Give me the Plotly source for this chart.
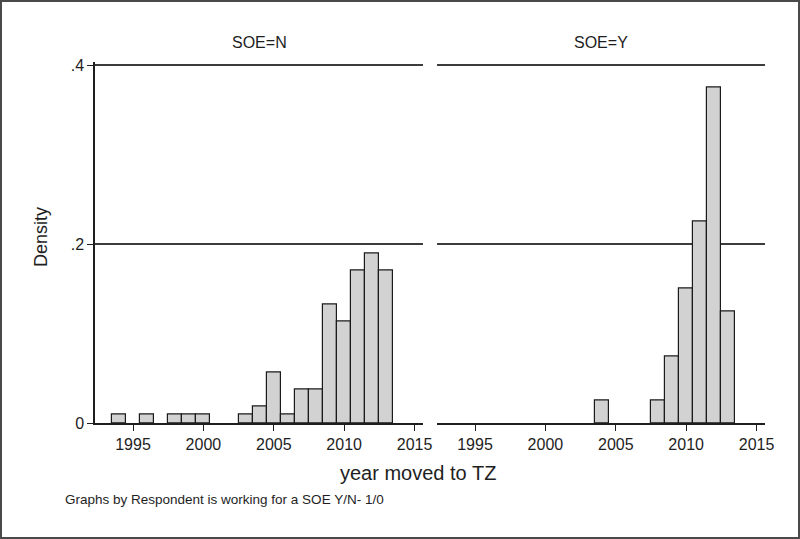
import plotly.graph_objects as go

# Data: density per 1-year bin (bins centered on integer years)
years_n = [1994, 1996, 1998, 1999, 2000, 2003, 2004, 2005, 2006, 2007, 2008, 2009, 2010, 2011, 2012, 2013]
density_n = [0.0095, 0.0095, 0.0095, 0.0095, 0.0095, 0.0095, 0.019, 0.057, 0.0095, 0.038, 0.038, 0.133, 0.114, 0.171, 0.190, 0.171]

years_y = [2004, 2008, 2009, 2010, 2011, 2012, 2013]
density_y = [0.025, 0.025, 0.075, 0.150, 0.225, 0.375, 0.125]

panel_titles = ["SOE=N", "SOE=Y"]
x_ticks = [1995, 2000, 2005, 2010, 2015]
y_ticks = [0, 0.2, 0.4]
y_ticktext = ["0", ".2", ".4"]

W, H = 800, 539
FONT = "Liberation Sans, Arial, sans-serif"
TXT = "#1e1e1e"
BAR_FILL = "#d2d2d2"
BAR_LINE = "#1a1a1a"
GRID = "#3c3c3c"

def px(x):
    return x / W

def py(y):
    return 1 - y / H

fig = go.Figure()
bar_style = dict(width=1.0, marker=dict(color=BAR_FILL, line=dict(color=BAR_LINE, width=1.2)), showlegend=False)
fig.add_trace(go.Bar(x=years_n, y=density_n, xaxis="x", yaxis="y", **bar_style))
fig.add_trace(go.Bar(x=years_y, y=density_y, xaxis="x2", yaxis="y2", **bar_style))

y_bottom = 423.3
y_top = 61.5
xr = [1992.3, 2015.6]
yr = [0, 0.404]

xaxis_common = dict(
    range=xr, tickvals=x_ticks, ticks="outside", ticklen=6, tickwidth=1.3, tickcolor=TXT,
    showline=True, linecolor=TXT, linewidth=1.5, showgrid=False, zeroline=False,
    tickfont=dict(family=FONT, size=16, color=TXT), automargin=False, fixedrange=True,
)
yaxis_common = dict(
    range=yr, domain=[py(y_bottom), py(y_top)], tickvals=y_ticks, ticktext=y_ticktext,
    showgrid=True, gridcolor=GRID, gridwidth=1.5, zeroline=False, automargin=False, fixedrange=True,
)

fig.update_layout(
    width=W, height=H,
    margin=dict(l=0, r=0, t=0, b=0),
    paper_bgcolor="white", plot_bgcolor="white",
    bargap=0,
    xaxis=dict(domain=[px(95), px(423)], anchor="y", **xaxis_common),
    xaxis2=dict(domain=[px(437), px(765)], anchor="y2", **xaxis_common),
    yaxis=dict(anchor="x", ticks="outside", ticklen=6, tickwidth=1.3, tickcolor=TXT,
               showline=True, linecolor=TXT, linewidth=1.5,
               tickfont=dict(family=FONT, size=16, color=TXT), **yaxis_common),
    yaxis2=dict(anchor="x2", showticklabels=False, ticks="", showline=False, **yaxis_common),
    annotations=[
        dict(text=panel_titles[0], x=px(259), y=py(42), xref="paper", yref="paper",
             xanchor="center", yanchor="middle", showarrow=False,
             font=dict(family=FONT, size=16, color=TXT)),
        dict(text=panel_titles[1], x=px(601), y=py(42), xref="paper", yref="paper",
             xanchor="center", yanchor="middle", showarrow=False,
             font=dict(family=FONT, size=16, color=TXT)),
        dict(text="Density", x=px(41), y=py(237), xref="paper", yref="paper",
             xanchor="center", yanchor="middle", showarrow=False, textangle=-90,
             font=dict(family=FONT, size=18, color=TXT)),
        dict(text="year moved to TZ", x=px(418), y=py(473), xref="paper", yref="paper",
             xanchor="center", yanchor="middle", showarrow=False,
             font=dict(family=FONT, size=20, color=TXT)),
        dict(text="Graphs by Respondent is working for a SOE Y/N- 1/0", x=px(63), y=py(499),
             xref="paper", yref="paper", xanchor="left", yanchor="middle", showarrow=False,
             font=dict(family=FONT, size=13.5, color=TXT)),
    ],
    shapes=[
        dict(type="rect", xref="paper", yref="paper", x0=px(1), x1=px(799), y0=py(538), y1=py(1),
             line=dict(color="#4a4a4a", width=2), fillcolor="rgba(0,0,0,0)", layer="above"),
    ],
)

fig.write_html("out.html", config={"displayModeBar": False},
               post_script="document.body.style.margin='0';document.body.style.overflow='hidden';")
